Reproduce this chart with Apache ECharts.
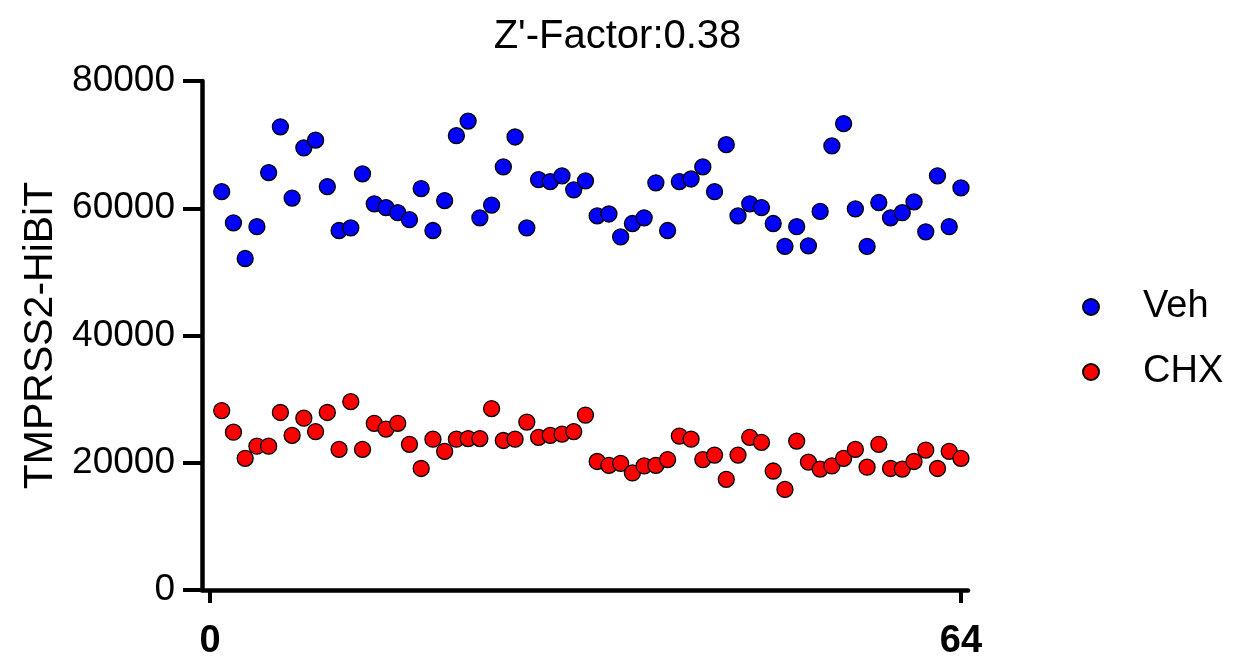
<!DOCTYPE html>
<html><head><meta charset="utf-8">
<script src="https://cdn.jsdelivr.net/npm/echarts@6/dist/echarts.min.js"></script>
<style>html,body{margin:0;padding:0;background:#fff}#c{width:1235px;height:661px}</style>
</head><body><div id="c"></div>
<script>
const titleText = "Z'-Factor:0.38";
const yAxisName = "TMPRSS2-HiBiT";
const seriesNames = ["Veh", "CHX"];
const xTickLabels = [0, 64];
const yTicks = [0, 20000, 40000, 60000, 80000];
const vehValues = [62600,57700,52100,57100,65600,72800,61600,69500,70700,63400,56500,56900,65400,60700,60100,59300,58200,63100,56500,61200,71400,73700,58500,60500,66500,71200,56900,64500,64200,65100,62900,64300,58800,59100,55500,57600,58500,64000,56500,64200,64600,66500,62600,70000,58800,60700,60100,57600,54000,57100,54100,59500,69800,73300,59900,54000,60900,58500,59300,61000,56300,65100,57100,63200];
const chxValues = [28200,24800,20700,22600,22600,27900,24300,27000,24900,27900,22100,29600,22100,26200,25300,26200,22900,19100,23700,21800,23700,23800,23800,28500,23500,23700,26400,24000,24300,24500,24900,27500,20200,19600,19900,18400,19500,19600,20500,24200,23700,20500,21200,17400,21200,24000,23200,18700,15800,23400,20100,19000,19500,20700,22100,19300,22900,19100,19000,20200,22000,19100,21800,20700];

const toPts = arr => arr.map((v, i) => [i + 1, v]);
const font = "'Liberation Sans', Arial, sans-serif";
const chart = echarts.init(document.getElementById('c'));
chart.setOption({
  animation: false,
  title: { text: titleText, left: 'center', top: 12, textStyle: { fontFamily: font, fontSize: 40, fontWeight: 'normal', color: '#000' } },
  grid: { left: 202, right: 267, top: 81, bottom: 70 },
  legend: {
    orient: 'vertical', left: 1077, top: 283, itemGap: 27, icon: 'circle', itemWidth: 16, itemHeight: 16,
    textStyle: { fontFamily: font, fontSize: 38, color: '#000', padding: [0, 0, 0, 39] },
    data: seriesNames
  },
  xAxis: {
    type: 'value', min: -0.68, max: 64.6,
    axisLine: { show: true, onZero: false, lineStyle: { color: '#000', width: 4.5 } },
    axisTick: { show: true, length: 13, lineStyle: { width: 4, color: '#000' }, customValues: xTickLabels },
    axisLabel: { customValues: xTickLabels, fontFamily: font, fontSize: 38, fontWeight: 'bold', color: '#000', margin: 33 },
    splitLine: { show: false }
  },
  yAxis: {
    type: 'value', min: 0, max: 80000, interval: 20000,
    name: yAxisName, nameLocation: 'middle', nameGap: 141,
    nameTextStyle: { fontFamily: font, fontSize: 41, color: '#000' },
    axisLine: { show: true, onZero: false, lineStyle: { color: '#000', width: 4.5 } },
    axisTick: { show: true, length: 19, lineStyle: { width: 4, color: '#000' } },
    axisLabel: { fontFamily: font, fontSize: 37, color: '#000', margin: 27, formatter: v => String(v) },
    splitLine: { show: false }
  },
  series: [
    { name: seriesNames[0], type: 'scatter', symbolSize: 16, data: toPts(vehValues),
      itemStyle: { color: '#0000ff', borderColor: '#000', borderWidth: 1.3, opacity: 1 } },
    { name: seriesNames[1], type: 'scatter', symbolSize: 16, data: toPts(chxValues),
      itemStyle: { color: '#ff0000', borderColor: '#000', borderWidth: 1.3, opacity: 1 } }
  ]
});
</script></body></html>
